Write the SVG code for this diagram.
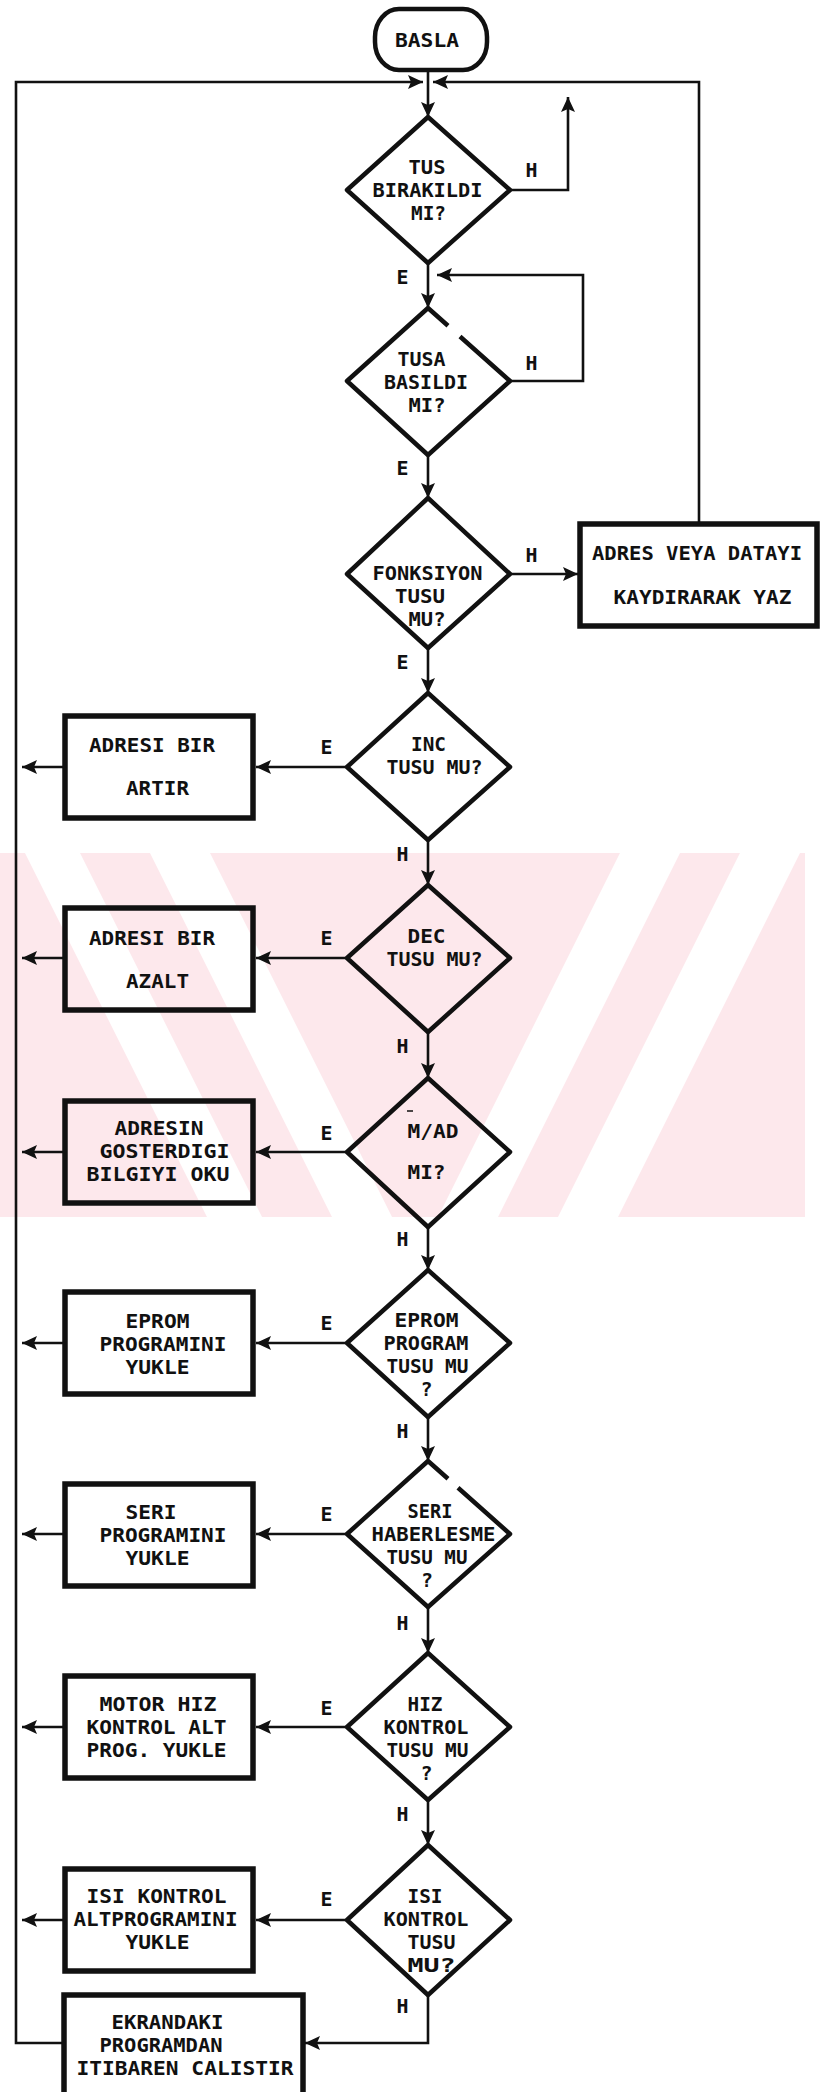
<svg xmlns="http://www.w3.org/2000/svg" width="825" height="2092" viewBox="0 0 825 2092">
<style>
.t{font-family:"DejaVu Sans Mono","Liberation Mono",monospace;font-weight:bold;font-size:19.5px;fill:#111;text-anchor:middle}
.d{fill:none;stroke:#111;stroke-width:4.5;stroke-linejoin:round}
.b{fill:none;stroke:#111;stroke-width:5.5}
.c{fill:none;stroke:#111;stroke-width:2.6}
.w{fill:#fde8ec}
.wh{fill:#ffffff}
</style>
<defs>
<marker id="a" markerUnits="userSpaceOnUse" markerWidth="16" markerHeight="14" refX="15" refY="7" orient="auto"><path d="M0,0 L15,7 L0,14 L3,7 z" fill="#111"/></marker>
<clipPath id="wmc"><rect x="0" y="853" width="805" height="364"/></clipPath>
</defs>
<rect width="825" height="2092" fill="#fff"/>
<g id="watermark" clip-path="url(#wmc)">
<rect class="w" x="0" y="853" width="805" height="364"/>
<polygon class="wh" points="25,853 80,853 262,1217 207,1217"/>
<polygon class="wh" points="150,853 210,853 392,1217 332,1217"/>
<polygon class="wh" points="620,853 680,853 498,1217 438,1217"/>
<polygon class="wh" points="740,853 800,853 618,1217 558,1217"/>
</g>
<g id="connectors">
<path class="c" d="M428,70 V117" marker-end="url(#a)"/>
<path class="c" d="M62,2043 H16 V82 H423" marker-end="url(#a)"/>
<path class="c" d="M699,524 V82 H433" marker-end="url(#a)"/>
<path class="c" d="M510,190 H568 V97" marker-end="url(#a)"/>
<path class="c" d="M428,263 V308" marker-end="url(#a)"/>
<path class="c" d="M510,381 H583 V275 H437" marker-end="url(#a)"/>
<path class="c" d="M428,455 V498" marker-end="url(#a)"/>
<path class="c" d="M510,574 H578" marker-end="url(#a)"/>
<path class="c" d="M428,648 V693" marker-end="url(#a)"/>
<path class="c" d="M347,767 H256" marker-end="url(#a)"/>
<path class="c" d="M65,767 H22" marker-end="url(#a)"/>
<path class="c" d="M428,840 V885" marker-end="url(#a)"/>
<path class="c" d="M347,958 H256" marker-end="url(#a)"/>
<path class="c" d="M65,958 H22" marker-end="url(#a)"/>
<path class="c" d="M428,1032 V1078" marker-end="url(#a)"/>
<path class="c" d="M347,1152 H256" marker-end="url(#a)"/>
<path class="c" d="M65,1152 H22" marker-end="url(#a)"/>
<path class="c" d="M428,1227 V1270" marker-end="url(#a)"/>
<path class="c" d="M347,1343 H256" marker-end="url(#a)"/>
<path class="c" d="M65,1343 H22" marker-end="url(#a)"/>
<path class="c" d="M428,1417 V1461" marker-end="url(#a)"/>
<path class="c" d="M347,1534 H256" marker-end="url(#a)"/>
<path class="c" d="M65,1534 H22" marker-end="url(#a)"/>
<path class="c" d="M428,1607 V1653" marker-end="url(#a)"/>
<path class="c" d="M347,1727 H256" marker-end="url(#a)"/>
<path class="c" d="M65,1727 H22" marker-end="url(#a)"/>
<path class="c" d="M428,1800 V1845" marker-end="url(#a)"/>
<path class="c" d="M347,1920 H256" marker-end="url(#a)"/>
<path class="c" d="M65,1920 H22" marker-end="url(#a)"/>
<path class="c" d="M428,1995 V2043 H305" marker-end="url(#a)"/>
<text class="t" x="531.5" y="176.5" textLength="12" lengthAdjust="spacingAndGlyphs">H</text>
<text class="t" x="402.5" y="283.5" textLength="12" lengthAdjust="spacingAndGlyphs">E</text>
<text class="t" x="531.5" y="369.5" textLength="12" lengthAdjust="spacingAndGlyphs">H</text>
<text class="t" x="402.5" y="474.5" textLength="12" lengthAdjust="spacingAndGlyphs">E</text>
<text class="t" x="531.5" y="561.5" textLength="12" lengthAdjust="spacingAndGlyphs">H</text>
<text class="t" x="402.5" y="668.5" textLength="12" lengthAdjust="spacingAndGlyphs">E</text>
<text class="t" x="326.5" y="753.5" textLength="12" lengthAdjust="spacingAndGlyphs">E</text>
<text class="t" x="402.5" y="860.5" textLength="12" lengthAdjust="spacingAndGlyphs">H</text>
<text class="t" x="326.5" y="944.5" textLength="12" lengthAdjust="spacingAndGlyphs">E</text>
<text class="t" x="402.5" y="1052.5" textLength="12" lengthAdjust="spacingAndGlyphs">H</text>
<text class="t" x="326.5" y="1139.5" textLength="12" lengthAdjust="spacingAndGlyphs">E</text>
<text class="t" x="402.5" y="1245.5" textLength="12" lengthAdjust="spacingAndGlyphs">H</text>
<text class="t" x="326.5" y="1329.5" textLength="12" lengthAdjust="spacingAndGlyphs">E</text>
<text class="t" x="402.5" y="1437.5" textLength="12" lengthAdjust="spacingAndGlyphs">H</text>
<text class="t" x="326.5" y="1520.5" textLength="12" lengthAdjust="spacingAndGlyphs">E</text>
<text class="t" x="402.5" y="1629.5" textLength="12" lengthAdjust="spacingAndGlyphs">H</text>
<text class="t" x="326.5" y="1714.5" textLength="12" lengthAdjust="spacingAndGlyphs">E</text>
<text class="t" x="402.5" y="1820.5" textLength="12" lengthAdjust="spacingAndGlyphs">H</text>
<text class="t" x="326.5" y="1905.5" textLength="12" lengthAdjust="spacingAndGlyphs">E</text>
<text class="t" x="402.5" y="2012.5" textLength="12" lengthAdjust="spacingAndGlyphs">H</text>
</g>
<g id="basla">
<rect x="375" y="9" width="112" height="61" rx="24" ry="28" fill="none" stroke="#111" stroke-width="4.5"/>
<text class="t" x="427" y="47.2" textLength="64" lengthAdjust="spacingAndGlyphs">BASLA</text>
</g>
<g id="d1">
<path class="d" d="M428,117 L510,190 L428,263 L347,190 Z"/>
<text class="t" x="427" y="174.2" textLength="37" lengthAdjust="spacingAndGlyphs">TUS</text>
<text class="t" x="427.5" y="197.2" textLength="110" lengthAdjust="spacingAndGlyphs">BIRAKILDI</text>
<text class="t" x="428.5" y="220.2" textLength="35" lengthAdjust="spacingAndGlyphs">MI?</text>
</g>
<g id="d2">
<path class="d" d="M460,336.5 L510,381 L428,455 L347,381 L428,308 L448,325.8"/>
<text class="t" x="421.5" y="365.7" textLength="48" lengthAdjust="spacingAndGlyphs">TUSA</text>
<text class="t" x="426" y="388.7" textLength="84" lengthAdjust="spacingAndGlyphs">BASILDI</text>
<text class="t" x="427" y="411.7" textLength="37" lengthAdjust="spacingAndGlyphs">MI?</text>
</g>
<g id="d3">
<path class="d" d="M428,498 L510,574 L428,648 L347,574 Z"/>
<text class="t" x="427.5" y="580.2" textLength="110" lengthAdjust="spacingAndGlyphs">FONKSIYON</text>
<text class="t" x="420" y="603.2" textLength="50" lengthAdjust="spacingAndGlyphs">TUSU</text>
<text class="t" x="427" y="626.2" textLength="37" lengthAdjust="spacingAndGlyphs">MU?</text>
</g>
<g id="adres">
<rect class="b" x="580" y="524" width="237" height="102"/>
<text class="t" x="697" y="560.2" textLength="210" lengthAdjust="spacingAndGlyphs">ADRES VEYA DATAYI</text>
<text class="t" x="702.5" y="604.2" textLength="178" lengthAdjust="spacingAndGlyphs">KAYDIRARAK YAZ</text>
</g>
<g id="d4">
<path class="d" d="M428,693 L510,767 L428,840 L347,767 Z"/>
<text class="t" x="428.5" y="751.2" textLength="35" lengthAdjust="spacingAndGlyphs">INC</text>
<text class="t" x="434.5" y="774.2" textLength="96" lengthAdjust="spacingAndGlyphs">TUSU MU?</text>
</g>
<g id="b4">
<rect class="b" x="65" y="716" width="188" height="102"/>
<text class="t" x="152" y="752.2" textLength="126" lengthAdjust="spacingAndGlyphs">ADRESI BIR</text>
<text class="t" x="157.5" y="795.2" textLength="63" lengthAdjust="spacingAndGlyphs">ARTIR</text>
</g>
<g id="d5">
<path class="d" d="M428,885 L510,958 L428,1032 L347,958 Z"/>
<text class="t" x="426.5" y="943.2" textLength="38" lengthAdjust="spacingAndGlyphs">DEC</text>
<text class="t" x="434.5" y="966.2" textLength="96" lengthAdjust="spacingAndGlyphs">TUSU MU?</text>
</g>
<g id="b5">
<rect class="b" x="65" y="908" width="188" height="102"/>
<text class="t" x="152" y="945.2" textLength="126" lengthAdjust="spacingAndGlyphs">ADRESI BIR</text>
<text class="t" x="157.5" y="988.2" textLength="63" lengthAdjust="spacingAndGlyphs">AZALT</text>
</g>
<g id="d6">
<path class="d" d="M428,1078 L510,1152 L428,1227 L347,1152 Z"/>
<line x1="407" y1="1111" x2="413" y2="1111" stroke="#111" stroke-width="1.5"/>
<text class="t" x="433" y="1138.2" textLength="51" lengthAdjust="spacingAndGlyphs">M/AD</text>
<text class="t" x="426.5" y="1179.2" textLength="38" lengthAdjust="spacingAndGlyphs">MI?</text>
</g>
<g id="b6">
<rect class="b" x="65" y="1101" width="188" height="102"/>
<text class="t" x="159" y="1135.2" textLength="89" lengthAdjust="spacingAndGlyphs">ADRESIN</text>
<text class="t" x="164.5" y="1158.2" textLength="130" lengthAdjust="spacingAndGlyphs">GOSTERDIGI</text>
<text class="t" x="158" y="1181.2" textLength="143" lengthAdjust="spacingAndGlyphs">BILGIYI OKU</text>
</g>
<g id="d7">
<path class="d" d="M428,1270 L510,1343 L428,1417 L347,1343 Z"/>
<text class="t" x="426.5" y="1326.7" textLength="64" lengthAdjust="spacingAndGlyphs">EPROM</text>
<text class="t" x="426" y="1349.7" textLength="85" lengthAdjust="spacingAndGlyphs">PROGRAM</text>
<text class="t" x="427.5" y="1372.7" textLength="82" lengthAdjust="spacingAndGlyphs">TUSU MU</text>
<text class="t" x="426.5" y="1395.7" textLength="12" lengthAdjust="spacingAndGlyphs">?</text>
</g>
<g id="b7">
<rect class="b" x="65" y="1292" width="188" height="102"/>
<text class="t" x="157.5" y="1327.7" textLength="64" lengthAdjust="spacingAndGlyphs">EPROM</text>
<text class="t" x="163" y="1350.7" textLength="127" lengthAdjust="spacingAndGlyphs">PROGRAMINI</text>
<text class="t" x="157.5" y="1373.7" textLength="64" lengthAdjust="spacingAndGlyphs">YUKLE</text>
</g>
<g id="d8">
<path class="d" d="M458,1487.7 L510,1534 L428,1607 L347,1534 L428,1461 L448,1478.8"/>
<text class="t" x="430" y="1518.2" textLength="45" lengthAdjust="spacingAndGlyphs">SERI</text>
<text class="t" x="433.5" y="1541.2" textLength="124" lengthAdjust="spacingAndGlyphs">HABERLESME</text>
<text class="t" x="427" y="1564.2" textLength="81" lengthAdjust="spacingAndGlyphs">TUSU MU</text>
<text class="t" x="427" y="1587.2" textLength="12" lengthAdjust="spacingAndGlyphs">?</text>
</g>
<g id="b8">
<rect class="b" x="65" y="1484" width="188" height="102"/>
<text class="t" x="151" y="1518.7" textLength="51" lengthAdjust="spacingAndGlyphs">SERI</text>
<text class="t" x="163" y="1541.7" textLength="127" lengthAdjust="spacingAndGlyphs">PROGRAMINI</text>
<text class="t" x="157.5" y="1564.7" textLength="64" lengthAdjust="spacingAndGlyphs">YUKLE</text>
</g>
<g id="d9">
<path class="d" d="M428,1653 L510,1727 L428,1800 L347,1727 Z"/>
<text class="t" x="425" y="1710.7" textLength="35" lengthAdjust="spacingAndGlyphs">HIZ</text>
<text class="t" x="426" y="1733.7" textLength="85" lengthAdjust="spacingAndGlyphs">KONTROL</text>
<text class="t" x="427.5" y="1756.7" textLength="82" lengthAdjust="spacingAndGlyphs">TUSU MU</text>
<text class="t" x="426.5" y="1779.7" textLength="12" lengthAdjust="spacingAndGlyphs">?</text>
</g>
<g id="b9">
<rect class="b" x="65" y="1676" width="188" height="102"/>
<text class="t" x="158" y="1710.7" textLength="117" lengthAdjust="spacingAndGlyphs">MOTOR HIZ</text>
<text class="t" x="156.5" y="1733.7" textLength="140" lengthAdjust="spacingAndGlyphs">KONTROL ALT</text>
<text class="t" x="156.5" y="1756.7" textLength="140" lengthAdjust="spacingAndGlyphs">PROG. YUKLE</text>
</g>
<g id="d10">
<path class="d" d="M428,1845 L510,1920 L428,1995 L347,1920 Z"/>
<text class="t" x="425" y="1902.7" textLength="35" lengthAdjust="spacingAndGlyphs">ISI</text>
<text class="t" x="426" y="1925.7" textLength="85" lengthAdjust="spacingAndGlyphs">KONTROL</text>
<text class="t" x="431.5" y="1948.7" textLength="48" lengthAdjust="spacingAndGlyphs">TUSU</text>
<text class="t" x="431.5" y="1971.7" textLength="48" lengthAdjust="spacingAndGlyphs">MU?</text>
</g>
<g id="b10">
<rect class="b" x="65" y="1869" width="188" height="102"/>
<text class="t" x="156.5" y="1903.2" textLength="140" lengthAdjust="spacingAndGlyphs">ISI KONTROL</text>
<text class="t" x="155.5" y="1926.2" textLength="164" lengthAdjust="spacingAndGlyphs">ALTPROGRAMINI</text>
<text class="t" x="157.5" y="1949.2" textLength="64" lengthAdjust="spacingAndGlyphs">YUKLE</text>
</g>
<g id="b11">
<rect class="b" x="64" y="1995" width="239" height="110"/>
<text class="t" x="167.5" y="2029.2" textLength="112" lengthAdjust="spacingAndGlyphs">EKRANDAKI</text>
<text class="t" x="161" y="2052.2" textLength="123" lengthAdjust="spacingAndGlyphs">PROGRAMDAN</text>
<text class="t" x="185" y="2075.2" textLength="217" lengthAdjust="spacingAndGlyphs">ITIBAREN CALISTIR</text>
</g>
</svg>
